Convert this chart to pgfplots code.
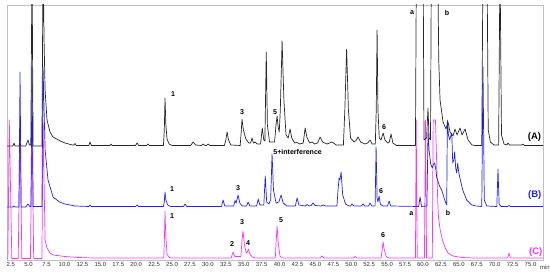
\documentclass[border=0pt]{standalone}
\usepackage{fontspec}
\setmainfont{Liberation Sans}
\usepackage{pgfplots}
\pgfplotsset{compat=1.18}
\definecolor{cA}{HTML}{262626}
\definecolor{cB}{HTML}{1F1FFF}
\definecolor{cC}{HTML}{FF33FF}
\definecolor{frame}{HTML}{BFBFBF}
\tikzset{
  lab/.style={font=\bfseries\fontsize{7.1}{7.1}\selectfont, inner sep=0pt},
  tr/.style={font=\bfseries\fontsize{9.5}{9.5}\selectfont, inner sep=0pt},
}
\begin{document}
\begin{tikzpicture}
\useasboundingbox (-7bp,-16bp) rectangle (543bp,260bp);
\begin{axis}[
  at={(0,0)}, anchor=south west,
  scale only axis, width=536bp, height=255bp,
  xmin=1.98, xmax=76.74, ymin=0, ymax=255,
  axis line style={frame, line width=0.9pt},
  xtick={2.5,5,...,75}, ytick=\empty,
  major tick length=0pt,
  xticklabel style={font=\fontsize{6}{6}\selectfont, text=black!80, yshift=1.5pt,
    /pgf/number format/.cd, fixed, fixed zerofill, precision=1, assume math mode=true},
  clip mode=individual,
  every axis plot/.append style={line width=0.7pt, line join=round},
]
% Trace C (magenta)
\addplot[cC] coordinates {
(1.98,1.5)(2.1,1.5)(2.3,140)(2.65,1.5)
(3.55,1.5)(3.8,140)(4.05,1.5)
(5.25,1.5)(5.47,140)(5.7,1.5)
(6.85,1.5)(7.01,140)(7.15,80)(7.29,20)(7.56,12)(7.98,7)(8.4,5)(10.07,3.5)(12,2.5)(14,2)
(23.85,2)(23.95,25)(24.02,49)(24.12,25)(24.3,6)(24.6,2.5)(25,2)
(33.25,2)(33.51,8)(33.75,3.5)
(34.6,3.5)(34.76,20)(34.9,29)(35.1,15)(35.35,7)(35.5,8)(35.65,11)(35.85,6)(36.2,3)(36.6,2)
(39.4,2)(39.52,18)(39.65,34)(39.8,18)(40.05,4)(40.4,2)
(45.7,2)(45.93,4)(46.2,2)
(50.3,2)(50.53,3.5)(50.8,2)
(54.15,2)(54.3,10)(54.44,18)(54.6,10)(54.9,3)(55.3,2)
(58.95,2)(59.05,140)(59.2,2)
(60.2,2)(60.35,140)(60.5,2)
(61.3,2)(61.42,140)(61.74,140)(61.9,100)(62.05,60)(62.16,43)(62.4,30)(62.71,20)(63.1,12)(63.49,7)(64.2,4)(65.45,2.5)(67,2)
(71.8,2)(72.0,7)(72.2,2)
(76.74,2)
};
% Trace B (blue)
\addplot[cB] coordinates {
(1.98,53)
(2.8,53)(2.96,54)(3.1,53)
(3.65,53)(3.8,188)(3.95,53)
(4.6,53)(4.91,56)(5.15,53.5)
(5.32,53.5)(5.47,193)(5.62,53.5)
(6.85,53.5)(7.01,193)(7.15,150)(7.3,110)(7.7,80)(8.4,63)(9.3,58)(10.07,56)(11.5,54)(13.4,53.5)(13.56,55)(13.75,53.5)
(19.9,53.5)(20.12,55)(20.35,53.5)
(23.8,53.5)(23.92,58)(24.02,68)(24.14,60)(24.4,55)(24.8,53.5)
(26.6,53.5)(26.81,56)(27.05,53.5)
(31.9,53.5)(32.12,60)(32.35,54)
(33.6,54)(33.79,59.5)(33.95,57)(34.21,65)(34.45,57)(34.8,54)
(35.4,54)(35.6,58)(35.85,54)
(36.8,54)(37.02,61)(37.25,55)
(37.8,55)(38.0,84)(38.2,58)(38.5,56)
(38.75,60)(38.95,106)(39.15,70)(39.5,57)(39.9,58)(40.21,65)(40.5,57)(41,54)
(42.2,54)(42.44,62)(42.7,55)
(43.6,54)(43.84,55.5)(44.1,54)(44.4,54.5)(44.67,57)(44.95,54.5)(45.8,54)(46.07,55)(46.4,54)
(48.0,54)(48.15,70)(48.3,82)(48.42,80)(48.58,88)(48.8,65)(49.2,56)(49.7,54)
(49.9,54)(50.11,56)(50.35,54)(51.4,54)(51.65,56)(51.9,54)(52.4,54)(52.62,57)(52.85,54)
(53.32,54)(53.46,113)(53.6,62)(53.72,58)(53.88,64)(54.05,56)(54.4,54)
(55.05,54)(55.27,59)(55.5,54)
(59.4,53.5)(59.59,63)(59.8,53.5)
(60.55,54)(60.7,128)(60.85,110)(61.07,96)(61.3,92)(61.5,96)(61.63,97)(61.8,90)(61.91,83)(62.05,80)(62.3,74)(62.61,70)(63.03,60)(63.31,55)(63.40,140)(63.55,125)(63.73,120)(63.88,124)(64.01,127)(64.15,97)(64.3,100)(64.42,108)(64.56,92)(64.70,87)(64.84,97)(64.98,88)(65.12,83)(65.54,70)(66.10,60)(66.8,55)(67.4,54)
(68.2,53.5)(68.37,193)(68.55,60)(68.9,54)
(70.3,53.5)(70.46,91)(70.62,56)(70.9,53.5)
(71.8,53.5)(72.0,54.5)(72.2,53.5)
(76.74,53.5)
};
% Trace A (black)
\addplot[cA] coordinates {
(1.98,114)
(2.8,114)(2.96,117)(3.1,114)
(3.65,114)(3.8,117)(3.95,114)
(4.6,114)(4.91,120)(5.1,115)
(5.3,115)(5.47,300)(5.62,114)
(6.85,114)(7.01,300)(7.15,220)(7.29,170)(7.56,140)(7.98,128)(8.4,123)(9.4,119)(10.07,117)(11.1,115)
(11.3,115)(11.47,116.5)(11.65,114.5)
(13.4,114.5)(13.56,118)(13.75,114.5)
(16.35,114.5)(16.49,116)(16.65,114.5)
(19.9,114.5)(20.12,117)(20.35,114.5)
(21.45,114.5)(21.65,116)(21.85,114.5)
(23.8,114.5)(23.92,130)(24.02,162)(24.14,135)(24.3,121)(24.6,116)(25,114.5)
(27.6,114.5)(27.93,118)(28.3,115)
(29.1,114.5)(29.33,116)(29.6,114.5)(29.8,114.5)(30.02,116)(30.3,114.5)
(32.3,114.5)(32.5,120)(32.68,128)(32.88,120)(33.2,115)
(34.5,114.5)(34.62,125)(34.76,141)(34.95,130)(35.3,121)(35.7,117)
(35.95,117)(36.16,122)(36.35,117)(36.6,118)(36.85,116)
(37.35,116)(37.58,132)(37.8,120)
(37.95,119)(38.14,208)(38.3,135)(38.6,118)
(39.3,118)(39.5,135)(39.65,144)(39.8,133)(39.95,128)
(40.1,150)(40.35,219)(40.6,160)(40.9,125)(41.2,122)
(41.46,131)(41.7,122)(42.1,117)(42.44,117.5)(42.8,116)
(43.3,117)(43.56,132)(43.8,123)(44.2,117)(44.53,118)(44.9,116)
(45.3,117)(45.65,123)(46.0,118)(46.6,116)(47.32,118)(47.9,115)
(48.9,115)(49.1,150)(49.35,211)(49.6,150)(49.9,122)(50.4,118)
(50.7,120)(50.95,123)(51.3,118)(51.9,116)(52.3,117)(52.62,120)(52.9,116)
(53.35,116)(53.48,150)(53.6,230)(53.72,150)(53.9,122)
(54.15,120)(54.44,127)(54.7,120)(55.1,117)
(55.3,118)(55.55,126)(55.8,117)(56.3,114.5)
(58.95,114.5)(59.08,300)(60.02,300)(60.14,120)(60.5,122)(60.7,152)(60.85,122)(61.05,120)(61.17,300)(62.05,300)(62.2,200)(62.38,160)(62.8,138)(63.21,131)(63.49,138)(63.77,128)(64.19,124)(64.47,131)(64.75,125)(65.17,132)(65.45,125)(65.87,131)(66.28,120)(66.84,115)(67.3,114.5)
(68.2,114.5)(68.37,300)(68.93,300)(69.1,130)(69.4,118)(69.9,115)
(70.55,115)(70.74,300)(70.95,125)(71.3,116)
(71.7,115)(71.86,117)(72.05,115)
(73.75,115)(73.95,116)(74.15,114.5)
(76.74,114.5)
};
% labels A
\node[lab] at (axis cs:25.14,166) {1};
\node[lab] at (axis cs:34.76,148) {3};
\node[lab] at (axis cs:39.36,148) {5};
\node[lab] at (axis cs:54.56,133) {6};
\node[lab] at (axis cs:58.47,247) {a};
\node[lab] at (axis cs:63.35,247) {b};
\node[tr, text=black] at (axis cs:75.55,122.5) {(A)};
% labels B
\node[lab] at (axis cs:25.0,71) {1};
\node[lab] at (axis cs:34.2,72) {3};
\node[lab, anchor=west] at (axis cs:39.1,108) {5+interference};
\node[lab] at (axis cs:54.14,69) {6};
\node[tr, text=cB] at (axis cs:75.59,65) {(B)};
% labels C
\node[lab] at (axis cs:25.0,44) {1};
\node[lab] at (axis cs:33.37,16) {2};
\node[lab] at (axis cs:34.76,38) {3};
\node[lab] at (axis cs:35.6,17) {4};
\node[lab] at (axis cs:40.2,40) {5};
\node[lab] at (axis cs:54.42,25) {6};
\node[lab] at (axis cs:58.38,46) {a};
\node[lab] at (axis cs:63.5,47) {b};
\node[tr, text=cC] at (axis cs:75.73,8) {(C)};
\node[font=\fontsize{6}{6}\selectfont, text=black!80, anchor=west, inner sep=0pt] at (axis cs:76.3,-7) {min};
\end{axis}
\end{tikzpicture}
\end{document}
